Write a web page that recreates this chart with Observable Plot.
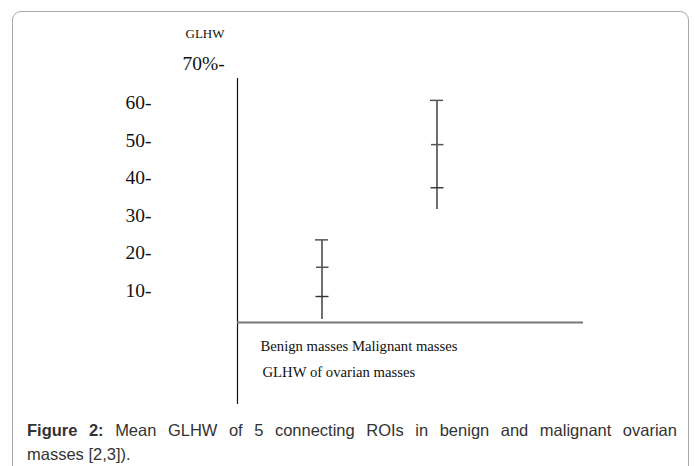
<!DOCTYPE html>
<html>
<head>
<meta charset="utf-8">
<script src="https://cdn.jsdelivr.net/npm/d3@7"></script>
<script src="https://cdn.jsdelivr.net/npm/@observablehq/plot@0.6"></script>
<style>
  html, body { margin: 0; padding: 0; background: #fff; }
  #wrap { position: relative; width: 695px; height: 466px; overflow: hidden; }
  #box { position: absolute; left: 12px; top: 11px; width: 677px; height: 480px;
         border: 1.5px solid #a8a8a8; border-radius: 9px; box-sizing: border-box; }
  #chart { position: absolute; left: 0; top: 0; }
  #caption { position: absolute; left: 27px; top: 418px; width: 650px;
             font-family: "Liberation Sans", Arial, sans-serif; font-size: 16.5px;
             line-height: 24px; color: #333; }
  #caption .l1 { text-align: justify; text-align-last: justify; white-space: nowrap; }
  #caption .l1 { white-space: normal; }
</style>
</head>
<body>
<div id="wrap">
  <div id="box"></div>
  <div id="chart"></div>
  <div id="caption"><div class="l1"></div><div class="l2"></div></div>
</div>
<script>
// ---- data ----
const categories = ["Benign masses", "Malignant masses"];
const upperValues = [23.5, 60.7];   // top cap
const meanValues = [16.2, 48.9];    // middle tick
const lowerValues = [8.4, 37.4];    // lower tick
const minValues = [2.3, 31.6];      // bottom end of the bar
const yTicks = [10, 20, 30, 40, 50, 60];
const yMax = 70;
const yMaxLabel = "70%";
const yTitle = "GLHW";
const xTitle = "GLHW of ovarian masses";
const captionBold = "Figure 2:";
const captionLine1 = " Mean GLHW of 5 connecting ROIs in benign and malignant ovarian";
const captionLine2 = "masses [2,3]).";

const data = categories.map((c, i) => ({
  group: c, upper: upperValues[i], mean: meanValues[i], lower: lowerValues[i], min: minValues[i]
}));

const serif = "'Liberation Serif', 'Times New Roman', serif";

const chart = Plot.plot({
  width: 695,
  height: 410,
  marginLeft: 237,
  marginRight: 112,
  marginTop: 78,
  marginBottom: 7,
  style: { fontFamily: serif, color: "#111", background: "transparent" },
  x: { type: "band", domain: categories, range: [263.5, 493.5], padding: 0, axis: null },
  y: { domain: [0, yMax], range: [327.5, 65], axis: null },
  marks: [
    Plot.frame({ anchor: "left", stroke: "#111", strokeWidth: 1.2 }),
    Plot.ruleY([0], { dy: -5.5, stroke: "#777", strokeWidth: 1.8 }),
    Plot.axisY({
      ticks: yTicks, tickSize: 0, tickFormat: d => d + "-",
      textAnchor: "start", dx: -103, fontSize: 19.5, fontFamily: serif, fill: "#111"
    }),
    Plot.text([yMax], {
      y: d => d, text: () => yMaxLabel + "-", frameAnchor: "left",
      textAnchor: "start", lineAnchor: "middle", dx: -55, dy: -1.5,
      fontSize: 19.5, fontFamily: serif, fill: "#111"
    }),
    Plot.text([yTitle], {
      text: d => d, frameAnchor: "top-left", textAnchor: "start", lineAnchor: "middle",
      dx: -52, dy: -44.7, fontSize: 13, fontFamily: serif, fill: "#111"
    }),
    Plot.text([categories.join(" ")], {
      text: d => d, frameAnchor: "bottom-left", textAnchor: "start", lineAnchor: "middle",
      dx: 23, dy: -57.2, fontSize: 14.7, fontFamily: serif, fill: "#111"
    }),
    Plot.text([xTitle], {
      text: d => d, frameAnchor: "bottom-left", textAnchor: "start", lineAnchor: "middle",
      dx: 25, dy: -31.7, fontSize: 14.7, fontFamily: serif, fill: "#111"
    }),
    Plot.ruleX(data, { x: "group", y1: "min", y2: "upper", stroke: "#222", strokeWidth: 1.3 }),
    Plot.tickY(data, { x: "group", y: "upper", insetLeft: 51, insetRight: 51, stroke: "#555", strokeWidth: 1.5 }),
    Plot.tickY(data, { x: "group", y: "mean", insetLeft: 51.5, insetRight: 51, dx: 0.5, stroke: "#555", strokeWidth: 1.5 }),
    Plot.tickY(data, { x: "group", y: "lower", insetLeft: 51, insetRight: 51, dx: 0.5, stroke: "#333", strokeWidth: 1.4 })
  ]
});
document.getElementById("chart").appendChild(chart);

const l1 = document.querySelector("#caption .l1");
const b = document.createElement("b");
b.textContent = captionBold;
l1.appendChild(b);
l1.appendChild(document.createTextNode(captionLine1));
document.querySelector("#caption .l2").textContent = captionLine2;
</script>
</body>
</html>
